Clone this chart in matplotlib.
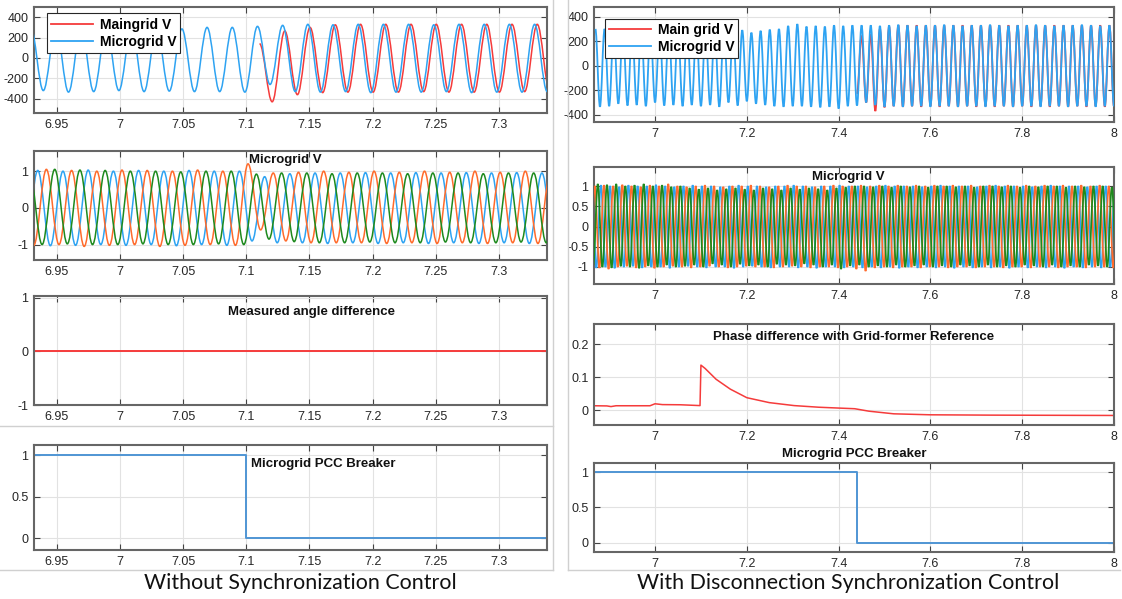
import numpy as np
import matplotlib
matplotlib.use("Agg")
import matplotlib.pyplot as plt
from matplotlib.path import Path
from matplotlib.patches import PathPatch
from matplotlib.lines import Line2D

# ---------------- DATA ----------------
# Waveforms are given as successive extrema (peak / trough values),
# starting time of first extremum and half-period spacing.

# Left top: Maingrid V / Microgrid V
lt_micro_t0, lt_micro_half = 6.9294, 0.00997
lt_micro = [300, -320, 295, -335, 290, -330, 290, -320, 290, -330,
            285, -325, 285, -330, 300, -330, 300, -335, 310, -260,
            320, -330, 330, -335, 325, -330, 330, -340, 330, -335,
            330, -335, 325, -330, 330, -340, 330, -335, 330, -335,
            330, -330, 325]
lt_main_t0, lt_main_half = 7.1105, 0.00999
lt_main = [140, -430, 265, -360, 300, -340, 325, -335, 330, -335,
           330, -335, 330, -330, 330, -335, 330, -335, 330, -335,
           330, -330, 330, -335, 330]

# Left middle: Microgrid V three phases (per unit)
lm_half = 0.009975
lm_blue_t0 = 6.9250
lm_blue = [-1.00, 1.02, -1.03, 1.00, -1.02, 1.03, -1.00, 1.00, -1.02, 1.02,
           -1.00, 1.00, -1.03, 1.02, -1.00, 1.00, -1.02, 1.00, -0.90, 0.85,
           -0.95, 0.93, -0.95, 0.95, -0.97, 0.95, -0.95, 0.96, -0.97, 0.95,
           -0.95, 0.96, -0.97, 0.95, -0.95, 0.96, -0.97, 0.95, -0.95, 0.96,
           -0.97, 0.95, -0.95, 0.96]
lm_orange_t0 = 6.92185
lm_orange = [1.00, -1.02, 1.05, -1.00, 1.02, -1.05, 1.00, -1.02, 1.03, -1.00,
             1.02, -1.05, 1.00, -1.02, 1.03, -1.00, 1.00, -1.02, 1.20, -0.60,
             0.95, -0.90, 0.97, -0.95, 1.00, -0.95, 0.97, -0.95, 1.00, -0.97,
             0.97, -0.95, 1.00, -0.97, 0.97, -0.95, 1.00, -0.97, 0.97, -0.95,
             1.00, -0.97, 0.97, -0.95]
lm_green_t0 = 6.92845
lm_green = [0.95, -1.00, 1.05, -0.98, 1.03, -1.00, 1.02, -1.00, 1.00, -0.98,
            1.00, -1.00, 0.98, -1.00, 1.00, -0.98, 1.00, -1.00, 0.92, -0.85,
            0.95, -0.92, 0.95, -0.95, 0.93, -0.95, 0.95, -0.93, 0.95, -0.95,
            0.93, -0.95, 0.95, -0.93, 0.95, -0.95, 0.93, -0.95, 0.95, -0.93,
            0.95, -0.95, 0.93, -0.95]

# Left third: Measured angle difference
l3_t = [6.90, 7.40]
l3_v = [0.0, 0.0]

# Left bottom: Microgrid PCC Breaker
lb_t = [6.90, 7.10, 7.40]
lb_v = [1, 0, 0]

# Right top: Main grid V / Microgrid V
rt_half = 0.01
rt_micro_t0 = 6.870
rt_micro_pk = [300, 300, 295, 300, 305, 300, 295, 300, 300, 300,
               295, 300, 300, 305, 300, 290, 290, 270, 285, 295,
               300, 325, 340, 320, 325, 320, 330, 325, 330, 330,
               330, 325, 330, 335, 330, 325, 330, 330, 335, 330,
               325, 330, 330, 335, 330, 325, 330, 330, 335, 330,
               325, 330, 330, 335, 330, 325, 330, 330]
rt_micro_tr = [-335, -330, -310, -325, -320, -330, -300, -325, -320, -330,
               -320, -330, -320, -335, -300, -325, -290, -310, -320, -330,
               -335, -330, -330, -335, -340, -335, -350, -330, -325, -300,
               -320, -335, -330, -335, -330, -330, -335, -330, -330, -335,
               -330, -330, -335, -330, -330, -335, -330, -330, -335, -330,
               -330, -335, -330, -330, -335, -330, -330]
rt_main_t0 = 7.440
rt_main = [-230, 245, -300, 255, -370, 300, -340, 320, -330, 330,
           -335, 330, -330, 330, -335, 330, -330, 330, -335, 330,
           -330, 330, -335, 330, -330, 330, -335, 330, -330, 330,
           -335, 330, -330, 330, -335, 330, -330, 330, -335, 330,
           -330, 330, -335, 330, -330, 330, -335, 330, -330, 330,
           -335, 330, -330, 330, -335, 330, -330]

# Right middle: Microgrid V three phases (per unit)
rm_half = 0.01
rm_blue_t0 = 6.862
rm_blue_pk = [1.00, 1.02, 1.00, 0.98, 1.02, 1.00, 1.00, 1.03, 1.00, 0.98,
              1.00, 1.02, 1.00, 1.00, 0.98, 1.00, 1.02, 1.00, 1.00, 0.98,
              1.00, 1.00, 1.02, 1.00, 0.98, 1.00, 1.00, 1.02, 1.00, 1.00,
              0.98, 1.00, 1.02, 1.00, 1.00, 1.00, 0.98, 1.00, 1.02, 1.00,
              1.00, 1.00, 0.98, 1.00, 1.02, 1.00, 1.00, 1.00, 0.98, 1.00,
              1.02, 1.00, 1.00, 1.00, 0.98, 1.00, 1.00, 1.00]
rm_blue_tr = [-1.02, -1.00, -1.03, -1.00, -0.98, -1.02, -1.00, -1.00, -1.03, -1.00,
              -0.98, -1.00, -1.02, -1.00, -1.00, -1.03, -1.00, -0.98, -1.00, -1.02,
              -1.00, -1.00, -1.02, -1.00, -1.03, -1.00, -1.00, -1.02, -1.00, -1.02,
              -1.00, -1.02, -1.00, -1.03, -1.00, -1.02, -1.00, -1.02, -1.00, -1.03,
              -1.00, -1.02, -1.00, -1.02, -1.00, -1.03, -1.00, -1.02, -1.00, -1.02,
              -1.00, -1.03, -1.00, -1.02, -1.00, -1.02, -1.00, -1.03]
rm_orange_t0 = 6.8587
rm_orange_tr = [-1.00, -1.02, -1.05, -1.00, -0.98, -1.02, -1.00, -1.03, -1.00, -0.98,
                -1.00, -1.02, -1.00, -0.98, -1.00, -1.02, -1.00, -0.98, -1.00, -1.00,
                -1.02, -1.00, -0.98, -1.00, -1.02, -1.00, -1.00, -1.02, -1.00, -1.05,
                -1.10, -1.02, -1.00, -1.02, -1.00, -1.00, -1.02, -1.00, -1.00, -1.02,
                -1.00, -1.00, -1.02, -1.00, -1.00, -1.02, -1.00, -1.00, -1.02, -1.00,
                -1.00, -1.02, -1.00, -1.00, -1.02, -1.00, -1.00, -1.02]
rm_orange_pk = [1.00, 1.02, 1.00, 1.03, 1.00, 0.98, 1.02, 1.00, 1.05, 1.00,
                0.98, 1.00, 1.02, 1.00, 0.98, 1.00, 1.00, 1.02, 1.00, 0.98,
                1.00, 1.02, 1.00, 1.00, 0.98, 1.00, 1.02, 1.00, 1.00, 1.02,
                1.00, 1.02, 1.00, 1.02, 1.00, 1.02, 1.00, 1.02, 1.00, 1.02,
                1.00, 1.02, 1.00, 1.02, 1.00, 1.02, 1.00, 1.02, 1.00, 1.02,
                1.00, 1.02, 1.00, 1.02, 1.00, 1.02, 1.00, 1.02]
rm_green_t0 = 6.8653
rm_green_tr = [-0.95, -1.00, -1.02, -0.98, -1.00, -1.03, -0.97, -1.00, -0.95, -1.00,
               -0.98, -0.95, -1.00, -0.92, -0.95, -1.00, -0.93, -0.97, -0.95, -1.00,
               -0.93, -0.95, -0.97, -0.92, -0.95, -1.00, -0.95, -1.05, -0.97, -0.95,
               -1.00, -0.97, -1.00, -0.95, -1.00, -0.97, -0.95, -1.00, -0.97, -1.00,
               -0.95, -0.97, -1.00, -0.95, -1.00, -0.97, -1.00, -0.95, -0.97, -1.00,
               -0.95, -1.00, -0.97, -1.00, -0.95, -0.97, -1.00, -0.97]
rm_green_pk = [1.05, 1.03, 1.05, 1.00, 1.02, 1.05, 1.00, 1.02, 0.98, 1.00,
               0.95, 0.92, 0.95, 0.90, 0.93, 0.95, 0.92, 0.90, 0.95, 0.93,
               0.90, 0.95, 0.92, 0.95, 0.93, 0.90, 0.95, 0.97, 1.00, 1.00,
               0.98, 1.00, 0.97, 1.00, 0.98, 1.00, 0.97, 1.00, 1.00, 0.98,
               1.00, 0.97, 1.00, 1.00, 0.98, 1.00, 0.97, 1.00, 0.98, 1.00,
               1.00, 0.97, 1.00, 0.98, 1.00, 1.00, 0.97, 1.00]

# Right third: Phase difference with Grid-former Reference
r3_t = [6.867, 6.895, 6.904, 6.915, 6.989, 7.000, 7.016, 7.055, 7.098, 7.100,
        7.109, 7.133, 7.164, 7.200, 7.249, 7.303, 7.357, 7.398, 7.435, 7.466,
        7.520, 7.600, 7.730, 8.000]
r3_v = [0.0135, 0.013, 0.011, 0.0135, 0.0135, 0.0195, 0.017, 0.0165, 0.014, 0.137,
        0.127, 0.094, 0.064, 0.038, 0.023, 0.014, 0.009, 0.0066, 0.0045, -0.003,
        -0.011, -0.014, -0.015, -0.016]

# Right bottom: Microgrid PCC Breaker
rb_t = [6.80, 7.44, 8.10]
rb_v = [1, 0, 0]

# Tick labels
l_xticks = [6.95, 7.0, 7.05, 7.1, 7.15, 7.2, 7.25, 7.3]
l_xlabels = ['6.95', '7', '7.05', '7.1', '7.15', '7.2', '7.25', '7.3']
r_xticks = [7.0, 7.2, 7.4, 7.6, 7.8, 8.0]
r_xlabels = ['7', '7.2', '7.4', '7.6', '7.8', '8']

# ---------------- STYLE ----------------
W, H = 1122, 599
C_RED = '#f53b3b'
C_LBLUE = '#2ea3f2'
C_ORANGE = '#ff6b2c'
C_GREEN = '#1e8a1e'
C_BRK = '#4f95d4'
C_SPINE = '#666666'
C_GRID = '#e2e2e2'

plt.rcParams['font.family'] = ['Liberation Sans', 'DejaVu Sans']

fig = plt.figure(figsize=(W / 100, H / 100), dpi=100)
fig.patch.set_facecolor('white')


def add_axes(x0, x1, ytop, ybot):
    return fig.add_axes([x0 / W, 1 - ybot / H, (x1 - x0) / W, (ybot - ytop) / H])


def style(ax, xlim, ylim, xticks, xlabels, yticks, ylabels):
    ax.set_xlim(*xlim)
    ax.set_ylim(*ylim)
    ax.set_xticks(xticks)
    ax.set_xticklabels(xlabels)
    ax.set_yticks(yticks)
    ax.set_yticklabels(ylabels)
    ax.tick_params(direction='in', length=4, width=0.8, top=True, right=True,
                   labelsize=9, labelcolor='#262626', color='#444444', pad=4)
    ax.grid(True, color=C_GRID, lw=0.8)
    ax.set_axisbelow(True)
    for s in ax.spines.values():
        s.set_color(C_SPINE)
        s.set_linewidth(1.5)


def wave(ax, t0, half, vals, color, lw, z=2, k=0.36):
    v = np.asarray(vals, dtype=float)
    t = t0 + half * np.arange(len(v))
    verts = [(t[0], v[0])]
    codes = [Path.MOVETO]
    for i in range(len(v) - 1):
        dt = t[i + 1] - t[i]
        verts += [(t[i] + k * dt, v[i]), (t[i + 1] - k * dt, v[i + 1]), (t[i + 1], v[i + 1])]
        codes += [Path.CURVE4] * 3
    ax.add_patch(PathPatch(Path(verts, codes), fc='none', ec=color, lw=lw, zorder=z))


def alt(a, b):
    out = []
    for x, y in zip(a, b):
        out += [x, y]
    if len(a) > len(b):
        out.append(a[len(b)])
    return out


# ---------------- LEFT COLUMN ----------------
LX0, LX1 = 34, 547
L_XLIM = (6.932, 7.338)

ax = add_axes(LX0, LX1, 7, 113)
style(ax, L_XLIM, (-540, 500), l_xticks, l_xlabels,
      [-400, -200, 0, 200, 400], ['-400', '-200', '0', '200', '400'])
wave(ax, lt_main_t0, lt_main_half, lt_main, C_RED, 1.1, z=2)
wave(ax, lt_micro_t0, lt_micro_half, lt_micro, C_LBLUE, 1.1, z=3)
h = [Line2D([], [], color=C_RED, lw=1.3), Line2D([], [], color=C_LBLUE, lw=1.3)]
leg = ax.legend(h, ['Maingrid V', 'Microgrid V'], loc='upper left', bbox_to_anchor=(0.025, 0.94),
                borderaxespad=0, fancybox=False, framealpha=1, edgecolor='#262626',
                prop={'weight': 'bold', 'size': 10}, handlelength=3.0, handletextpad=0.5,
                borderpad=0.3, labelspacing=0.25)
leg.get_frame().set_linewidth(0.8)
leg.set_zorder(10)

ax = add_axes(LX0, LX1, 151, 260)
style(ax, L_XLIM, (-1.42, 1.55), l_xticks, l_xlabels, [-1, 0, 1], ['-1', '0', '1'])
wave(ax, lm_blue_t0, lm_half, lm_blue, C_LBLUE, 1.1, z=2)
wave(ax, lm_orange_t0, lm_half, lm_orange, C_ORANGE, 1.1, z=3)
wave(ax, lm_green_t0, lm_half, lm_green, C_GREEN, 1.1, z=4)
ax.text(0.49, 0.915, 'Microgrid V', transform=ax.transAxes, ha='center', va='center',
        fontsize=9.5, fontweight='bold', color='#111111', zorder=6)

ax = add_axes(LX0, LX1, 296, 405)
style(ax, L_XLIM, (-1, 1.03), l_xticks, l_xlabels, [-1, 0, 1], ['-1', '0', '1'])
ax.plot(l3_t, l3_v, color=C_RED, lw=1.4)
ax.text(0.54, 0.855, 'Measured angle difference', transform=ax.transAxes, ha='center',
        va='center', fontsize=9.5, fontweight='bold', color='#111111')

ax = add_axes(LX0, LX1, 445, 550)
style(ax, L_XLIM, (-0.14, 1.12), l_xticks, l_xlabels, [0, 0.5, 1], ['0', '0.5', '1'])
ax.plot(lb_t, lb_v, color=C_BRK, lw=1.4, drawstyle='steps-post')
ax.text(0.423, 0.815, 'Microgrid PCC Breaker', transform=ax.transAxes, ha='left',
        va='center', fontsize=9.5, fontweight='bold', color='#111111')

# ---------------- RIGHT COLUMN ----------------
RX0, RX1 = 594, 1114
R_XLIM = (6.867, 8.0)

ax = add_axes(RX0, RX1, 7, 122)
style(ax, R_XLIM, (-460, 480), r_xticks, r_xlabels,
      [-400, -200, 0, 200, 400], ['-400', '-200', '0', '200', '400'])
wave(ax, rt_main_t0, rt_half, rt_main, C_RED, 1.3, z=2)
wave(ax, rt_micro_t0, rt_half, alt(rt_micro_pk, rt_micro_tr), C_LBLUE, 1.3, z=3)
h = [Line2D([], [], color=C_RED, lw=1.3), Line2D([], [], color=C_LBLUE, lw=1.3)]
leg = ax.legend(h, ['Main grid V', 'Microgrid V'], loc='upper left', bbox_to_anchor=(0.021, 0.90),
                borderaxespad=0, fancybox=False, framealpha=1, edgecolor='#262626',
                prop={'weight': 'bold', 'size': 10}, handlelength=3.0, handletextpad=0.5,
                borderpad=0.3, labelspacing=0.25)
leg.get_frame().set_linewidth(0.8)
leg.set_zorder(10)

ax = add_axes(RX0, RX1, 167, 284)
style(ax, R_XLIM, (-1.42, 1.47), r_xticks, r_xlabels,
      [-1, -0.5, 0, 0.5, 1], ['-1', '-0.5', '0', '0.5', '1'])
wave(ax, rm_blue_t0, rm_half, alt(rm_blue_pk, rm_blue_tr), C_LBLUE, 1.25, z=2)
wave(ax, rm_orange_t0, rm_half, alt(rm_orange_tr, rm_orange_pk), C_ORANGE, 1.25, z=3)
wave(ax, rm_green_t0, rm_half, alt(rm_green_tr, rm_green_pk), C_GREEN, 1.25, z=4)
ax.text(0.49, 0.915, 'Microgrid V', transform=ax.transAxes, ha='center', va='center',
        fontsize=9.5, fontweight='bold', color='#111111', zorder=6)

ax = add_axes(RX0, RX1, 324, 425)
style(ax, R_XLIM, (-0.045, 0.262), r_xticks, r_xlabels, [0, 0.1, 0.2], ['0', '0.1', '0.2'])
ax.plot(r3_t, r3_v, color=C_RED, lw=1.1)
ax.text(0.5, 0.87, 'Phase difference with Grid-former Reference', transform=ax.transAxes,
        ha='center', va='center', fontsize=9.5, fontweight='bold', color='#111111')

ax = add_axes(RX0, RX1, 463, 552)
style(ax, R_XLIM, (-0.13, 1.13), r_xticks, r_xlabels, [0, 0.5, 1], ['0', '0.5', '1'])
ax.plot(rb_t, rb_v, color=C_BRK, lw=1.4, drawstyle='steps-post')
ax.set_title('Microgrid PCC Breaker', fontsize=9.5, fontweight='bold', color='#111111', pad=4)

# ---------------- PANEL FRAMES & CAPTIONS ----------------
def fline(x0, y0, x1, y1):
    fig.add_artist(Line2D([x0 / W, x1 / W], [1 - y0 / H, 1 - y1 / H], transform=fig.transFigure,
                          color='#d0d0d0', lw=1.0))

fline(553, 0, 553, 570)
fline(0, 426, 553, 426)
fline(0, 570, 553, 570)
fline(568, 0, 568, 570)
fline(568, 570, 1120, 570)

fig.text(300 / W, 1 - 583 / H, 'Without Synchronization Control', ha='center', va='center',
         fontsize=15.4, family=['Lato', 'DejaVu Sans'], color='#111111')
fig.text(848 / W, 1 - 583 / H, 'With Disconnection Synchronization Control', ha='center',
         va='center', fontsize=15.4, family=['Lato', 'DejaVu Sans'], color='#111111')

fig.savefig('out.png', dpi=100, facecolor='white')
